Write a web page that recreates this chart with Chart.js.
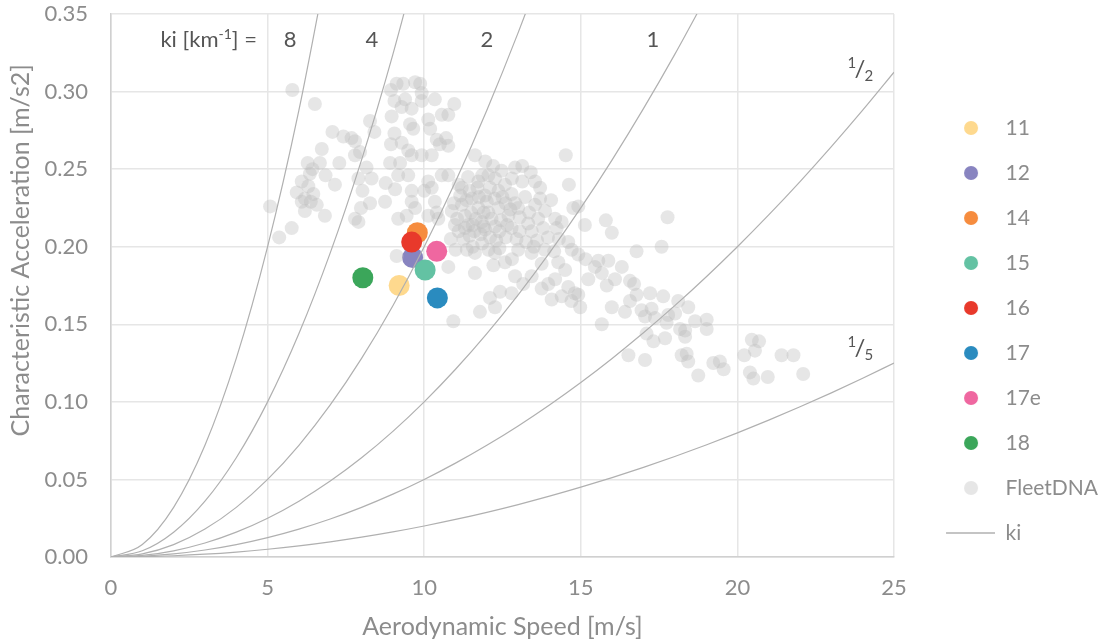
<!DOCTYPE html>
<html>
<head>
<meta charset="utf-8">
<script src="https://cdn.jsdelivr.net/npm/chart.js@4.4.1/dist/chart.umd.min.js"></script>
<style>
  html, body { margin: 0; padding: 0; background: #fff; }
</style>
</head>
<body>
<canvas id="ki-chart" width="1110" height="642"></canvas>
<script>
const FONT = "Lato, 'Open Sans', sans-serif";

// highlighted vehicles
const seriesNames = ['11', '12', '14', '15', '16', '17', '17e', '18'];
const seriesColors = ['#fed98e', '#8884c0', '#f68c3e', '#63c2a3', '#e8392b', '#2a8bbf', '#ef67a0', '#3ba65a'];
const seriesSpeed = [9.20, 9.63, 9.78, 10.03, 9.60, 10.42, 10.40, 8.04];
const seriesAccel = [0.175, 0.193, 0.209, 0.185, 0.203, 0.167, 0.197, 0.180];

// FleetDNA cloud
const fleetSpeed = [
    5.79, 6.51, 7.07, 7.42, 7.68, 7.79, 6.73, 6.28, 6.67, 7.29,
    6.35, 6.43, 6.85, 6.09, 7.15, 5.93, 6.19, 6.46, 6.09, 6.57,
    5.08, 6.19, 6.83, 5.77, 5.37, 6.30, 6.38, 8.27, 8.41, 7.79,
    7.95, 8.16, 8.32, 7.90, 8.03, 8.27, 7.98, 7.79, 7.90, 8.75,
    8.77, 8.91, 8.94, 8.96, 9.05, 9.28, 9.07, 9.17, 9.23, 9.49,
    9.60, 9.49, 9.55, 9.65, 9.28, 9.05, 9.39, 9.60, 9.12, 9.33,
    9.71, 9.87, 8.94, 9.92, 9.92, 10.13, 10.19, 9.92, 10.24, 10.40,
    10.50, 10.34, 10.56, 9.60, 9.60, 9.17, 9.44, 9.71, 10.13, 10.24,
    10.00, 10.34, 10.13, 10.56, 10.45, 9.12, 10.40, 10.77, 11.36, 10.96,
    10.77, 10.77, 10.70, 11.62, 14.52, 14.62, 13.13, 12.90, 12.47, 12.05,
    13.13, 13.54, 12.26, 12.10, 12.58, 11.73, 11.40, 10.77, 11.20, 11.52,
    11.94, 12.37, 12.79, 13.22, 13.54, 13.86, 14.18, 14.39, 14.76, 14.92,
    15.13, 15.80, 15.99, 13.00, 12.69, 12.37, 12.05, 11.73, 11.30, 10.88,
    10.98, 11.41, 11.84, 12.26, 12.79, 13.32, 13.64, 13.43, 13.80, 14.23,
    11.10, 11.25, 11.45, 11.60, 11.80, 11.95, 12.10, 11.20, 11.50, 11.65,
    11.90, 12.15, 11.05, 11.35, 11.75, 12.45, 12.60, 12.90, 11.55, 11.85,
    12.30, 12.60, 12.95, 13.25, 13.60, 13.95, 14.30, 14.60, 10.85, 11.00,
    11.62, 12.26, 12.58, 12.80, 12.21, 11.62, 13.00, 13.43, 13.75, 13.43,
    12.90, 13.16, 12.79, 12.42, 12.10, 12.26, 11.78, 10.93, 13.96, 14.18,
    13.75, 14.07, 14.39, 14.60, 14.81, 14.70, 14.98, 14.92, 14.50, 14.28,
    14.71, 14.92, 15.15, 15.24, 15.45, 15.56, 15.88, 15.67, 15.83, 16.09,
    16.31, 16.57, 15.99, 16.41, 16.57, 15.67, 16.52, 17.58, 16.78, 16.70,
    16.78, 17.21, 17.63, 18.11, 18.43, 16.94, 17.26, 17.05, 17.37, 17.79,
    18.01, 17.74, 18.17, 18.33, 18.65, 19.02, 19.02, 18.33, 17.10, 17.32,
    17.69, 18.22, 18.38, 18.43, 17.05, 18.75, 19.23, 19.44, 19.56, 20.46,
    20.69, 20.56, 20.22, 21.41, 21.79, 20.40, 20.51, 20.97, 22.10, 17.77,
    11.15, 11.45, 11.70, 12.00, 12.25, 12.50, 12.75, 13.05, 13.35, 13.70,
    11.30, 11.55, 11.90, 12.40, 12.65, 13.05, 13.50, 13.85, 14.15, 12.05,
    12.40, 10.95, 11.10, 11.85, 12.80, 13.40, 12.20, 11.95, 13.70, 14.05
];
const fleetAccel = [
    0.301, 0.292, 0.274, 0.271, 0.270, 0.268, 0.263, 0.254, 0.254, 0.254,
    0.247, 0.250, 0.246, 0.242, 0.240, 0.235, 0.231, 0.234, 0.229, 0.227,
    0.226, 0.223, 0.220, 0.212, 0.206, 0.239, 0.229, 0.281, 0.274, 0.259,
    0.261, 0.251, 0.244, 0.244, 0.236, 0.228, 0.225, 0.218, 0.216, 0.229,
    0.241, 0.254, 0.266, 0.284, 0.273, 0.267, 0.237, 0.246, 0.254, 0.262,
    0.259, 0.246, 0.279, 0.276, 0.290, 0.294, 0.295, 0.289, 0.305, 0.305,
    0.306, 0.305, 0.301, 0.299, 0.294, 0.282, 0.276, 0.259, 0.259, 0.269,
    0.266, 0.295, 0.285, 0.236, 0.229, 0.218, 0.220, 0.225, 0.242, 0.238,
    0.236, 0.229, 0.220, 0.246, 0.218, 0.194, 0.222, 0.187, 0.198, 0.292,
    0.285, 0.265, 0.270, 0.259, 0.259, 0.240, 0.252, 0.251, 0.249, 0.246,
    0.242, 0.242, 0.244, 0.238, 0.240, 0.242, 0.245, 0.246, 0.238, 0.231,
    0.233, 0.236, 0.234, 0.232, 0.227, 0.223, 0.218, 0.216, 0.225, 0.226,
    0.214, 0.217, 0.209, 0.225, 0.220, 0.225, 0.222, 0.225, 0.220, 0.223,
    0.214, 0.214, 0.216, 0.213, 0.212, 0.215, 0.218, 0.210, 0.212, 0.212,
    0.210, 0.205, 0.207, 0.210, 0.208, 0.211, 0.206, 0.227, 0.222, 0.218,
    0.222, 0.218, 0.218, 0.230, 0.232, 0.217, 0.228, 0.228, 0.200, 0.202,
    0.204, 0.206, 0.205, 0.203, 0.204, 0.206, 0.205, 0.203, 0.205, 0.198,
    0.196, 0.196, 0.190, 0.192, 0.188, 0.183, 0.198, 0.196, 0.189, 0.181,
    0.181, 0.176, 0.170, 0.171, 0.167, 0.161, 0.158, 0.152, 0.176, 0.179,
    0.173, 0.166, 0.168, 0.174, 0.170, 0.165, 0.161, 0.169, 0.185, 0.190,
    0.198, 0.195, 0.192, 0.179, 0.187, 0.191, 0.191, 0.183, 0.175, 0.179,
    0.187, 0.178, 0.161, 0.158, 0.165, 0.150, 0.130, 0.200, 0.197, 0.176,
    0.169, 0.170, 0.168, 0.165, 0.161, 0.159, 0.160, 0.155, 0.154, 0.156,
    0.157, 0.151, 0.147, 0.146, 0.152, 0.153, 0.147, 0.142, 0.144, 0.139,
    0.141, 0.130, 0.131, 0.126, 0.127, 0.117, 0.125, 0.126, 0.121, 0.140,
    0.139, 0.133, 0.130, 0.130, 0.130, 0.119, 0.115, 0.116, 0.118, 0.219,
    0.233, 0.236, 0.238, 0.229, 0.231, 0.232, 0.224, 0.219, 0.222, 0.231,
    0.212, 0.214, 0.213, 0.210, 0.214, 0.210, 0.200, 0.198, 0.197, 0.198,
    0.199, 0.228, 0.240, 0.246, 0.244, 0.248, 0.252, 0.255, 0.238, 0.230
];

// constant kinetic-intensity curves (ki = a / v^2), sampled every 1 m/s
const kiLabels = ['8', '4', '2', '1', '1/2', '1/5'];
const kiSpeed = [0, 1, 2, 3, 4, 5, 6, 7, 8, 9, 10, 11, 12, 13, 14, 15, 16, 17, 18, 19, 20, 21, 22, 23, 24, 25];
const kiAccel = [
    [0, 0.008, 0.032, 0.072, 0.128, 0.200, 0.288, 0.392],
    [0, 0.004, 0.016, 0.036, 0.064, 0.100, 0.144, 0.196, 0.256, 0.324, 0.400],
    [0, 0.002, 0.008, 0.018, 0.032, 0.050, 0.072, 0.098, 0.128, 0.162, 0.200, 0.242, 0.288, 0.338, 0.392],
    [0, 0.001, 0.004, 0.009, 0.016, 0.025, 0.036, 0.049, 0.064, 0.081, 0.100, 0.121, 0.144, 0.169, 0.196, 0.225, 0.256, 0.289, 0.324, 0.361],
    [0, 0.0005, 0.002, 0.0045, 0.008, 0.0125, 0.018, 0.0245, 0.032, 0.0405, 0.050, 0.0605, 0.072, 0.0845, 0.098, 0.1125, 0.128, 0.1445, 0.162, 0.1805, 0.200, 0.2205, 0.242, 0.2645, 0.288, 0.3125],
    [0, 0.0002, 0.0008, 0.0018, 0.0032, 0.005, 0.0072, 0.0098, 0.0128, 0.0162, 0.020, 0.0242, 0.0288, 0.0338, 0.0392, 0.045, 0.0512, 0.0578, 0.0648, 0.0722, 0.080, 0.0882, 0.0968, 0.1058, 0.1152, 0.125]
];

const xTicks = [0, 5, 10, 15, 20, 25];
const yTicks = [0, 0.05, 0.10, 0.15, 0.20, 0.25, 0.30, 0.35];

const FLEET_COLOR = 'rgba(190, 190, 190, 0.38)';
const KI_COLOR = '#b0b0b0';
const TEXT_GREY = '#8c8c8c';

function toPoints(xs, ys) {
    return ys.map((y, i) => ({ x: xs[i], y }));
}

function legendIcon(color) {
    const icon = document.createElement('canvas');
    icon.width = 77;
    icon.height = 20;
    const ctx = icon.getContext('2d');
    if (color) {
        ctx.fillStyle = color;
        ctx.beginPath();
        ctx.arc(53, 10, 7, 0, Math.PI * 2);
        ctx.fill();
    } else {
        ctx.strokeStyle = KI_COLOR;
        ctx.lineWidth = 1.5;
        ctx.beginPath();
        ctx.moveTo(28, 10);
        ctx.lineTo(77, 10);
        ctx.stroke();
    }
    return icon;
}

const datasets = [];
seriesNames.forEach((name, i) => {
    datasets.push({
        label: name,
        data: [{ x: seriesSpeed[i], y: seriesAccel[i] }],
        backgroundColor: seriesColors[i],
        borderWidth: 0,
        pointRadius: 10.5,
        order: 20 - i
    });
});
datasets.push({
    label: 'FleetDNA',
    data: toPoints(fleetSpeed, fleetAccel),
    backgroundColor: FLEET_COLOR,
    borderWidth: 0,
    pointRadius: 7,
    order: 2
});
kiLabels.forEach((k, i) => {
    datasets.push({
        label: i === 0 ? 'ki' : 'ki ' + k,
        data: toPoints(kiSpeed, kiAccel[i]),
        showLine: true,
        borderColor: KI_COLOR,
        borderWidth: 1.2,
        pointRadius: 0,
        cubicInterpolationMode: 'monotone',
        fill: false,
        order: 1
    });
});

// text labels for the ki curves
function drawPieces(ctx, pieces, startX, baseY) {
    let x = startX;
    pieces.forEach((p) => {
        ctx.font = `${p.size}px ${FONT}`;
        ctx.fillText(p.text, x, baseY + (p.dy || 0));
        x += ctx.measureText(p.text).width;
    });
}

function piecesWidth(ctx, pieces) {
    return pieces.reduce((w, p) => {
        ctx.font = `${p.size}px ${FONT}`;
        return w + ctx.measureText(p.text).width;
    }, 0);
}

const kiNotesPlugin = {
    id: 'kiNotes',
    afterDatasetsDraw(chart) {
        const { ctx, scales: { x, y } } = chart;
        ctx.save();
        ctx.fillStyle = '#555555';
        ctx.textBaseline = 'middle';
        ctx.textAlign = 'left';

        const rowY = y.getPixelForValue(0.3332);
        const header = [
            { text: 'ki [km', size: 22 },
            { text: '-1', size: 14, dy: -6 },
            { text: '] =', size: 22 }
        ];
        const headerEnd = x.getPixelForValue(4.66);
        drawPieces(ctx, header, headerEnd - piecesWidth(ctx, header), rowY);

        ctx.textAlign = 'center';
        ctx.font = `22px ${FONT}`;
        [[5.72, '8'], [8.33, '4'], [12.0, '2'], [17.3, '1']].forEach(([v, t]) => {
            ctx.fillText(t, x.getPixelForValue(v), rowY);
        });

        [[0.3146, '2'], [0.1347, '5']].forEach(([a, den]) => {
            const cx = x.getPixelForValue(23.91);
            const cy = y.getPixelForValue(a);
            ctx.font = `15px ${FONT}`;
            ctx.fillText('1', cx - 8, cy - 6);
            ctx.font = `24px ${FONT}`;
            ctx.fillText('/', cx, cy);
            ctx.font = `15px ${FONT}`;
            ctx.fillText(den, cx + 9, cy + 7);
        });
        ctx.restore();
    }
};

new Chart(document.getElementById('ki-chart'), {
    type: 'scatter',
    data: { datasets },
    plugins: [kiNotesPlugin],
    options: {
        responsive: false,
        animation: false,
        devicePixelRatio: 1,
        layout: { padding: { top: 14, right: 2, bottom: 0, left: 0 } },
        plugins: {
            tooltip: { enabled: false },
            legend: {
                position: 'right',
                align: 'center',
                title: { display: true, text: '', padding: 0, font: { size: 4, lineHeight: 1.25 } },
                labels: {
                    usePointStyle: true,
                    pointStyleWidth: 77,
                    boxHeight: 20,
                    padding: 24,
                    color: TEXT_GREY,
                    font: { family: FONT, size: 21 },
                    generateLabels: (chart) => chart.data.datasets.slice(0, 10).map((ds, i) => ({
                        text: ds.label,
                        datasetIndex: i,
                        pointStyle: legendIcon(i < 9 ? ds.backgroundColor : null),
                        fillStyle: 'transparent',
                        strokeStyle: 'transparent',
                        lineWidth: 0,
                        fontColor: TEXT_GREY,
                        hidden: false
                    }))
                }
            }
        },
        scales: {
            x: {
                type: 'linear',
                min: xTicks[0],
                max: xTicks[xTicks.length - 1],
                afterFit: (scale) => { scale.height = 85; },
                afterBuildTicks: (scale) => { scale.ticks = xTicks.map((v) => ({ value: v })); },
                ticks: {
                    padding: 0,
                    color: TEXT_GREY,
                    font: { family: FONT, size: 22 }
                },
                grid: { color: '#e6e6e6', lineWidth: 1.5, drawTicks: true, tickLength: 18, tickColor: 'rgba(0,0,0,0)' },
                border: { color: '#d0d0d0', width: 1.5 },
                title: {
                    display: true,
                    text: 'Aerodynamic Speed [m/s]',
                    color: TEXT_GREY,
                    font: { family: FONT, size: 25 },
                    padding: { top: 0, bottom: 0 }
                }
            },
            y: {
                type: 'linear',
                min: yTicks[0],
                max: yTicks[yTicks.length - 1],
                afterFit: (scale) => { scale.width = 111; },
                afterBuildTicks: (scale) => { scale.ticks = yTicks.map((v) => ({ value: v })); },
                ticks: {
                    padding: 0,
                    color: TEXT_GREY,
                    font: { family: FONT, size: 22 },
                    callback: (value) => Number(value).toFixed(2)
                },
                grid: { color: '#e6e6e6', lineWidth: 1.5, drawTicks: true, tickLength: 23, tickColor: 'rgba(0,0,0,0)' },
                border: { color: '#d0d0d0', width: 1.5 },
                title: {
                    display: true,
                    // leading spaces lift the centred title to where the original sits
                    text: '\u00a0'.repeat(11) + 'Characteristic Acceleration [m/s2]',
                    color: TEXT_GREY,
                    font: { family: FONT, size: 25 },
                    padding: { top: 6, bottom: 0 }
                }
            }
        }
    }
});
</script>
</body>
</html>
